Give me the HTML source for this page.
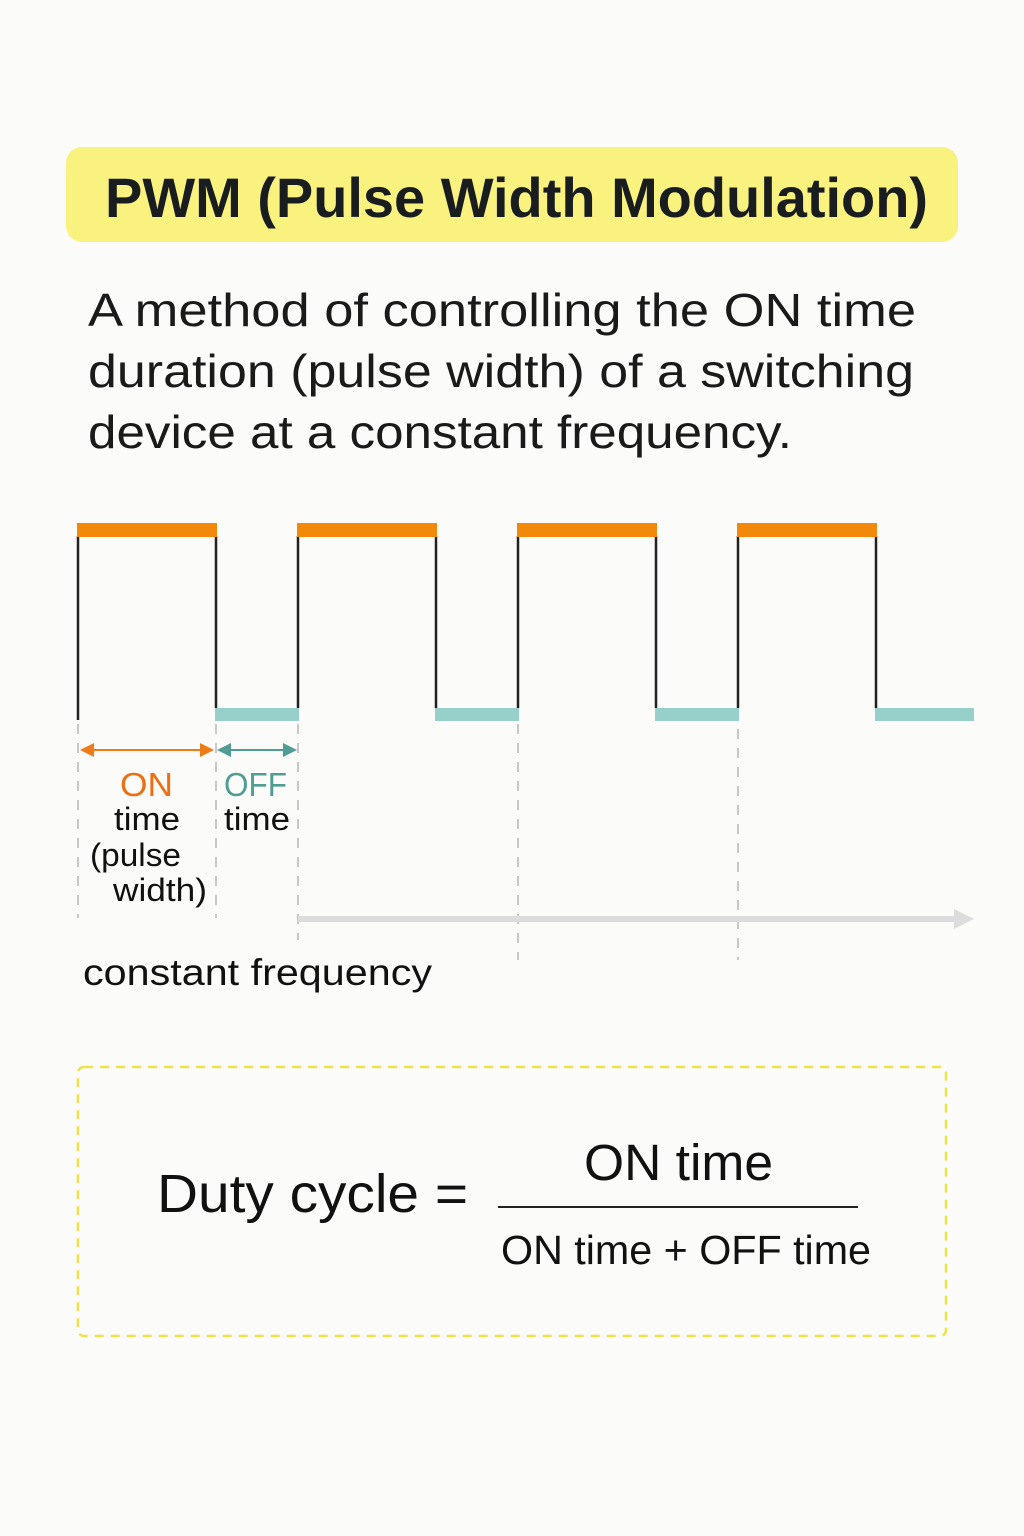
<!DOCTYPE html>
<html><head><meta charset="utf-8"><style>
html,body{margin:0;padding:0;background:#fbfbf9;}
svg{display:block;}
text{font-family:"Liberation Sans","DejaVu Sans",sans-serif;}
</style></head><body>
<svg width="1024" height="1536" viewBox="0 0 1024 1536" xmlns="http://www.w3.org/2000/svg">
<rect width="1024" height="1536" fill="#fbfbf9"/>
<rect x="66" y="147" width="892" height="95" rx="16" fill="#f9f27e"/>
<text x="105" y="217" font-size="56" font-weight="bold" fill="#1a1d20" textLength="823" lengthAdjust="spacingAndGlyphs">PWM (Pulse Width Modulation)</text>
<g font-size="46" fill="#1a1a1a">
<text x="88" y="326" textLength="828" lengthAdjust="spacingAndGlyphs">A method of controlling the ON time</text>
<text x="88" y="387" textLength="826" lengthAdjust="spacingAndGlyphs">duration (pulse width) of a switching</text>
<text x="88" y="448" textLength="704" lengthAdjust="spacingAndGlyphs">device at a constant frequency.</text>
</g>
<!-- dashed guides -->
<g stroke="#c8c8c8" stroke-width="2" stroke-dasharray="10,9">
<line x1="78" y1="724" x2="78" y2="918"/>
<line x1="216" y1="724" x2="216" y2="918"/>
<line x1="298" y1="724" x2="298" y2="940"/>
<line x1="518" y1="724" x2="518" y2="960"/>
<line x1="738" y1="729" x2="738" y2="960"/>
</g>
<!-- time axis -->
<line x1="298" y1="919" x2="958" y2="919" stroke="#dcdcdc" stroke-width="6"/>
<polygon points="954,909 974,919 954,929" fill="#dcdcdc"/>
<!-- waveform -->
<g stroke="#222" stroke-width="2.5">
<line x1="78" y1="536" x2="78" y2="720"/>
<line x1="216" y1="536" x2="216" y2="708"/>
<line x1="298" y1="536" x2="298" y2="708"/>
<line x1="436" y1="536" x2="436" y2="708"/>
<line x1="518" y1="536" x2="518" y2="708"/>
<line x1="656" y1="536" x2="656" y2="708"/>
<line x1="738" y1="536" x2="738" y2="708"/>
<line x1="876" y1="536" x2="876" y2="708"/>
</g>
<g fill="#f2890a">
<rect x="77" y="523" width="140" height="14"/>
<rect x="297" y="523" width="140" height="14"/>
<rect x="517" y="523" width="140" height="14"/>
<rect x="737" y="523" width="140" height="14"/>
</g>
<g fill="#97d0cb">
<rect x="215" y="708" width="84" height="13"/>
<rect x="435" y="708" width="84" height="13"/>
<rect x="655" y="708" width="84" height="13"/>
<rect x="875" y="708" width="99" height="13"/>
</g>
<!-- dimension arrows -->
<line x1="84" y1="750" x2="210" y2="750" stroke="#ee7a18" stroke-width="2"/>
<polygon points="80,750 94,743 94,757" fill="#ee7a18"/>
<polygon points="214,750 200,743 200,757" fill="#ee7a18"/>
<line x1="222" y1="750" x2="292" y2="750" stroke="#4f9d93" stroke-width="2"/>
<polygon points="217,750 231,743 231,757" fill="#4f9d93"/>
<polygon points="297,750 283,743 283,757" fill="#4f9d93"/>
<text x="120" y="796" font-size="33" fill="#ec6f12" textLength="53" lengthAdjust="spacingAndGlyphs">ON</text>
<text x="224" y="796" font-size="33" fill="#4f9d93" textLength="63" lengthAdjust="spacingAndGlyphs">OFF</text>
<g font-size="32" fill="#111">
<text x="114" y="830" textLength="66" lengthAdjust="spacingAndGlyphs">time</text>
<text x="224" y="830" textLength="66" lengthAdjust="spacingAndGlyphs">time</text>
<text x="90" y="866" textLength="91" lengthAdjust="spacingAndGlyphs">(pulse</text>
<text x="113" y="901" textLength="94" lengthAdjust="spacingAndGlyphs">width)</text>
</g>
<text x="83" y="985" font-size="37" fill="#111" textLength="349" lengthAdjust="spacingAndGlyphs">constant frequency</text>
<!-- formula box -->
<rect x="78" y="1067" width="868" height="269" rx="6" fill="none" stroke="#ece34a" stroke-width="2.5" stroke-dasharray="9,7"/>
<text x="157" y="1212" font-size="54" fill="#111" textLength="311" lengthAdjust="spacingAndGlyphs">Duty cycle =</text>
<text x="584" y="1180" font-size="51" fill="#111" textLength="189" lengthAdjust="spacingAndGlyphs">ON time</text>
<line x1="498" y1="1207" x2="858" y2="1207" stroke="#222" stroke-width="2"/>
<text x="501" y="1264" font-size="41" fill="#111" textLength="370" lengthAdjust="spacingAndGlyphs">ON time + OFF time</text>
</svg>
</body></html>
